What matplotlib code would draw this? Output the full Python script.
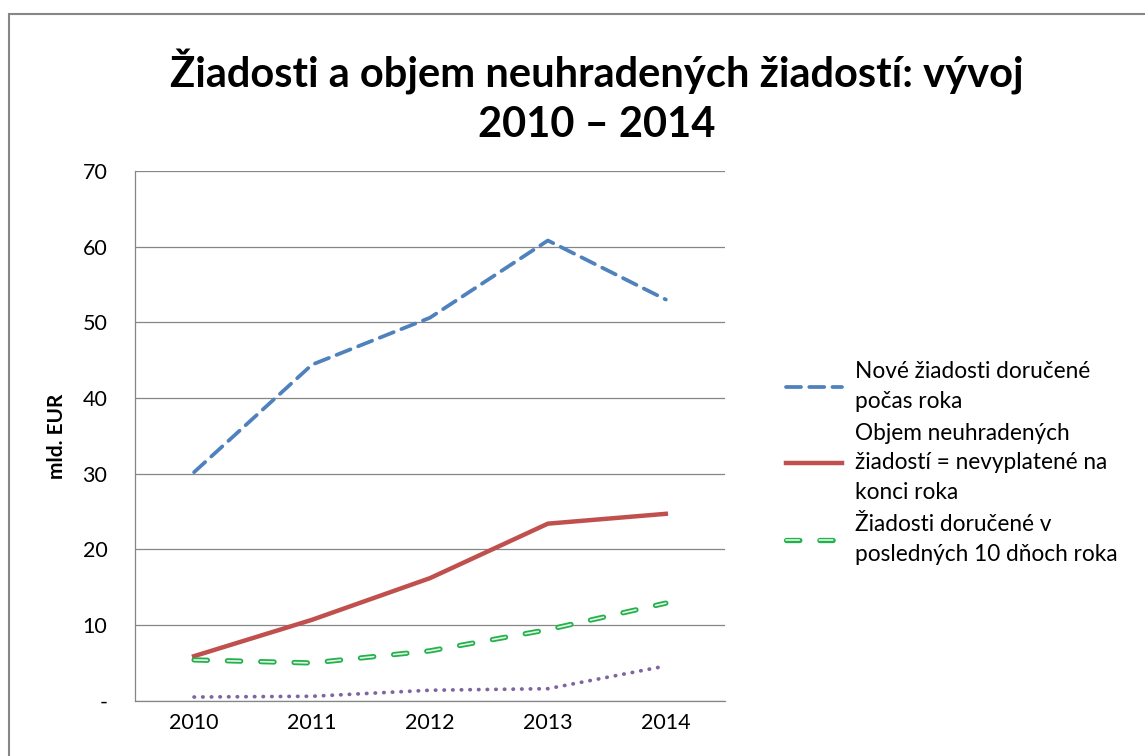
import matplotlib
matplotlib.use("Agg")
import matplotlib.pyplot as plt
import matplotlib.patheffects as pe
from matplotlib.patches import Rectangle

plt.rcParams['font.family'] = ['Lato', 'DejaVu Sans']

# data
years = ['2010', '2011', '2012', '2013', '2014']
nove = [30.2, 44.4, 50.6, 60.8, 53.0]
objem = [5.9, 10.7, 16.2, 23.4, 24.7]
posl10 = [5.4, 5.0, 6.6, 9.4, 12.9]
ine = [0.5, 0.6, 1.4, 1.6, 4.6]

labels = ['Nové žiadosti doručené\npočas roka',
          'Objem neuhradených\nžiadostí = nevyplatené na\nkonci roka',
          'Žiadosti doručené v\nposledných 10 dňoch roka']
yticks = [0, 10, 20, 30, 40, 50, 60, 70]
yticklabels = ['-'] + [str(v) for v in yticks[1:]]

fig = plt.figure(figsize=(11.45, 7.56), dpi=100)
ax = fig.add_axes([0.118, 0.073, 0.515, 0.701])

x = range(len(years))
ax.plot(x, nove, color='#4F81BD', lw=2.7, ls=(0, (4.0, 2.2)),
        dash_capstyle='round', label=labels[0], zorder=3)
ax.plot(x, objem, color='#C0504D', lw=3.2, label=labels[1], zorder=3)
ax.plot(x, posl10, color='#E6F5E6', lw=1.2, ls=(0, (8, 12)),
        dash_capstyle='round', label=labels[2], zorder=3,
        path_effects=[pe.Stroke(linewidth=3.8, foreground='#22B24C'), pe.Normal()])
ax.plot(x, ine, color='#8064A2', lw=2.7, ls=(0, (0.1, 2.2)),
        dash_capstyle='round', zorder=3)

ax.set_xlim(-0.5, len(years) - 0.5)
ax.set_ylim(0, 70)
ax.set_xticks(list(x))
ax.set_xticklabels(years)
ax.set_yticks(yticks)
ax.set_yticklabels(yticklabels)
ax.tick_params(axis='both', length=0, labelsize=15.5, colors='#000000')
ax.tick_params(axis='y', pad=20)
ax.tick_params(axis='x', pad=9)
ax.grid(axis='y', color='#868686', lw=0.9)
ax.set_axisbelow(True)
for s in ['top', 'right']:
    ax.spines[s].set_visible(False)
for s in ['left', 'bottom']:
    ax.spines[s].set_color('#868686')
    ax.spines[s].set_linewidth(0.9)

ax.set_ylabel('mld. EUR', fontsize=15, fontweight='bold', labelpad=11)

fig.text(0.521, 0.872, 'Žiadosti a objem neuhradených žiadostí: vývoj\n2010 – 2014',
         ha='center', va='center', fontsize=30, fontweight='bold', linespacing=1.35)

leg = ax.legend(loc='center left', bbox_to_anchor=(1.07, 0.449), frameon=False,
                fontsize=16.3, handlelength=2.45, handletextpad=0.6,
                labelspacing=0.5)
for t in leg.get_texts():
    t.set_linespacing(1.5)

fig.add_artist(Rectangle((9 / 1145, -0.01), 1.02, 1 - 14 / 756 + 0.01,
                         transform=fig.transFigure, fill=False,
                         edgecolor='#868686', lw=1.5))

fig.savefig('out.png', dpi=100)
